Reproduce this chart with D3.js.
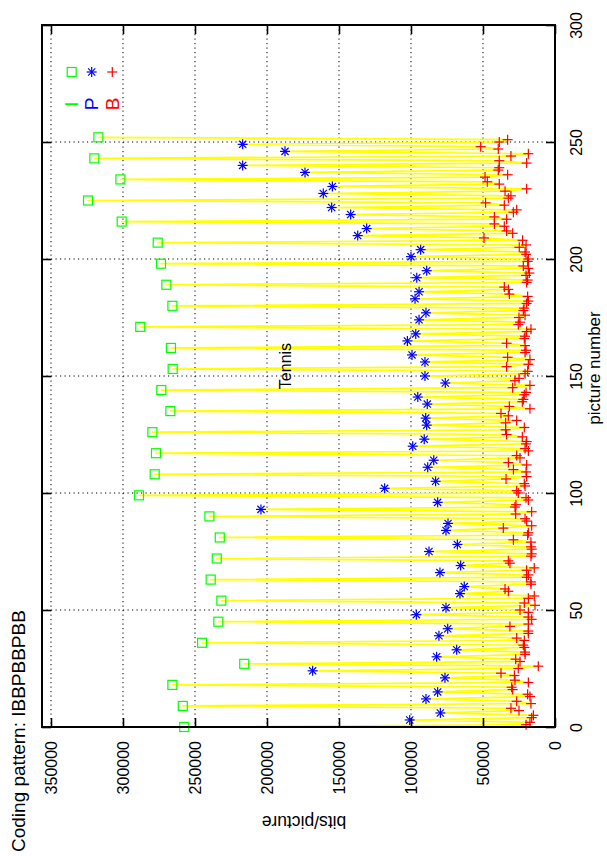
<!DOCTYPE html>
<meta charset="utf-8">
<style>
body { margin: 0; background: #fff; }
svg { font-family: "Liberation Sans", Arial, sans-serif; }
.grid line { stroke: #000; stroke-width: 1; stroke-dasharray: 1.2,3.3; }
.tick line { stroke: #000; stroke-width: 1.6; }
</style>
<body>
<script src="https://cdn.jsdelivr.net/npm/d3@7"></script>
<script>
var width = 607, height = 856;

var pattern = "IBBPBBPBB";

// bits per picture, in picture order for each frame type
var iBits = [257500, 258500, 265700, 215800, 245100, 233800, 231700, 239100, 234900, 232800,
  240000, 288900, 278000, 277100, 279600, 267100, 273400, 265500, 266700, 288000,
  265700, 269900, 273600, 275900, 300900, 324300, 301800, 319900, 317100];

var pBits = [100900, 79600, 89600, 81500, 76400, 168300, 82200, 68300, 80600, 74500,
  96300, 75700, 66000, 63000, 79900, 65500, 87500, 67800, 75700, 74300,
  204200, 81500, 118300, 82900, 88400, 84200, 98800, 90800, 89100, 89800,
  88700, 95300, 76200, 90300, 90300, 99300, 102500, 96700, 94400, 89600,
  97200, 94400, 96000, 89100, 100000, 93300, 137000, 130800, 141900, 155100,
  160900, 154600, 173600, 216900, 187500, 216900];

var bBits = [
  20100, 17400, 16200, 15000, 25000, 30600,
  16700, 26600, 17400, 19000, 29400, 30100,
  18500, 27800, 28200, 37500, 25500, 11600,
  24300, 27300, 20800, 20800, 21300, 22000,
  21300, 26600, 18500, 18500, 31300, 18500,
  16200, 18500, 18500, 24300, 13900, 21300,
  18500, 14400, 32400, 34700, 16700, 16700,
  19700, 18500, 19700, 14400, 31300, 32400,
  16700, 16200, 16200, 16700, 16700, 28900,
  19000, 18500, 35900, 16200, 19700, 20800,
  27300, 16200, 27800, 27100, 18500, 20100,
  25500, 26600, 20800, 21300, 34000, 19700,
  20100, 28900, 19700, 32400, 24300, 26600,
  18500, 20800, 20100, 19700, 22700, 33600,
  34300, 21300, 34300, 26600, 32400, 37500,
  17400, 31700, 22700, 22000, 21300, 20100,
  29400, 17400, 27800, 25000, 20800, 19000,
  33600, 18500, 17400, 32900, 20800, 20100,
  20800, 33600, 21300, 20800, 19700, 16700,
  25500, 24300, 25000, 20800, 22000, 21500,
  19700, 18500, 19000, 31700, 32400, 35200,
  19700, 19000, 20100, 17800, 18500, 22000,
  19000, 18500, 20100, 20800, 24800, 20100,
  22500, 49300, 29400, 33600, 35200, 42100,
  33600, 42100, 28900, 26600, 35200, 48200,
  32400, 30600, 34700, 19700, 38700, 47000,
  48600, 32900, 39400, 38700, 19700, 38700,
  30600, 18500, 39400, 51600, 38700, 32900];

var pictureTicks = [0, 50, 100, 150, 200, 250, 300];
var bitsTicks = [0, 50000, 100000, 150000, 200000, 250000, 300000, 350000];

var colors = { I: "#00ff00", P: "#0000ff", B: "#ff0000" };

// build picture sequence from the coding pattern
var frames = [];
var idx = { I: 0, P: 0, B: 0 };
var src = { I: iBits, P: pBits, B: bBits };
var total = iBits.length + pBits.length + bBits.length;
for (var n = 0; n < total; n++) {
  var t = pattern[n % pattern.length];
  frames.push({ pic: n, type: t, bits: src[t][idx[t]++] });
}

// page is rotated: bits run right-to-left, picture number bottom-to-top
var pLeft = 42, pRight = 555, pTop = 25, pBottom = 727;

var x = d3.scaleLinear().domain([0, 356250]).range([pRight, pLeft]);
var y = d3.scaleLinear().domain([0, 300]).range([pBottom, pTop]);

var svg = d3.select("body").append("svg")
  .attr("width", width)
  .attr("height", height);

svg.append("rect").attr("width", width).attr("height", height).attr("fill", "#fff");

// grid
var grid = svg.append("g").attr("class", "grid");
grid.selectAll(".gx")
  .data(bitsTicks.filter(function(d) { return d > 0; }))
  .enter().append("line")
    .attr("x1", function(d) { return x(d); })
    .attr("x2", function(d) { return x(d); })
    .attr("y1", pTop).attr("y2", pBottom);
grid.selectAll(".gy")
  .data(pictureTicks.filter(function(d) { return d > 0 && d < 300; }))
  .enter().append("line")
    .attr("y1", function(d) { return y(d); })
    .attr("y2", function(d) { return y(d); })
    .attr("x1", pLeft).attr("x2", pRight);

// yellow line through all pictures
var line = d3.line()
  .x(function(d) { return x(d.bits); })
  .y(function(d) { return y(d.pic); });

svg.append("path")
  .datum(frames)
  .attr("fill", "none")
  .attr("stroke", "#ffff00")
  .attr("stroke-width", 1.7)
  .attr("stroke-linejoin", "round")
  .attr("d", line);

// point symbols
function drawSymbol(g, type) {
  var c = colors[type];
  if (type == "I") {
    g.append("rect")
      .attr("x", -4.5).attr("y", -4.5)
      .attr("width", 9).attr("height", 9)
      .attr("fill", "none").attr("stroke", c).attr("stroke-width", 1.2);
  } else {
    var r = 5;
    var segs = [[-r, 0, r, 0], [0, -r, 0, r]];
    if (type == "P") {
      var s = 3.6;
      segs.push([-s, -s, s, s], [-s, s, s, -s]);
    }
    segs.forEach(function(p) {
      g.append("line")
        .attr("x1", p[0]).attr("y1", p[1]).attr("x2", p[2]).attr("y2", p[3])
        .attr("stroke", c).attr("stroke-width", 1.2);
    });
  }
}

svg.append("g").selectAll("g")
  .data(frames)
  .enter().append("g")
    .attr("transform", function(d) { return "translate(" + x(d.bits) + "," + y(d.pic) + ")"; })
    .each(function(d) { drawSymbol(d3.select(this), d.type); });

// frame
svg.append("rect")
  .attr("x", pLeft).attr("y", pTop)
  .attr("width", pRight - pLeft).attr("height", pBottom - pTop)
  .attr("fill", "none").attr("stroke", "#000").attr("stroke-width", 2);

// axes (ticks inward on all sides)
var fontSize = "16px";

var axisPic = svg.append("g")
  .attr("transform", "translate(" + pRight + ",0)")
  .call(d3.axisRight(y).tickValues(pictureTicks).tickSizeInner(-9).tickSizeOuter(0).tickPadding(22));
axisPic.select(".domain").remove();
axisPic.selectAll("text")
  .attr("font-size", fontSize).attr("font-family", null)
  .attr("text-anchor", "middle")
  .attr("x", 0)
  .attr("dy", "0.35em")
  .attr("transform", "translate(21,0) rotate(-90)");

var axisPicMirror = svg.append("g")
  .attr("transform", "translate(" + pLeft + ",0)")
  .call(d3.axisLeft(y).tickValues(pictureTicks).tickSizeInner(-9).tickSizeOuter(0).tickFormat(""));
axisPicMirror.select(".domain").remove();

var axisBits = svg.append("g")
  .attr("transform", "translate(0," + pBottom + ")")
  .call(d3.axisBottom(x).tickValues(bitsTicks).tickSizeInner(-9).tickSizeOuter(0).tickFormat(d3.format("d")));
axisBits.select(".domain").remove();
axisBits.selectAll("text")
  .attr("font-size", fontSize).attr("font-family", null)
  .attr("text-anchor", "end")
  .attr("y", 0)
  .attr("dy", "0.35em")
  .attr("transform", "translate(0,14) rotate(-90)");

var axisBitsMirror = svg.append("g")
  .attr("transform", "translate(0," + pTop + ")")
  .call(d3.axisTop(x).tickValues(bitsTicks).tickSizeInner(-9).tickSizeOuter(0).tickFormat(""));
axisBitsMirror.select(".domain").remove();

// labels
svg.append("text")
  .attr("transform", "translate(594," + (y(150) - 8) + ") rotate(-90)")
  .attr("text-anchor", "middle").attr("dy", "0.35em")
  .attr("font-size", "17px")
  .text("picture number");

svg.append("text")
  .attr("transform", "translate(" + (x(175000) + 1) + ",822) rotate(180)")
  .attr("text-anchor", "middle").attr("dy", "0.35em")
  .attr("font-size", "17.5px")
  .text("bits/picture");

svg.append("text")
  .attr("transform", "translate(285,366) rotate(-90)")
  .attr("text-anchor", "middle").attr("dy", "0.35em")
  .attr("font-size", "16px")
  .text("Tennis");

svg.append("text")
  .attr("transform", "translate(18,852) rotate(-90)")
  .attr("text-anchor", "start").attr("dy", "0.35em")
  .attr("font-size", "19px")
  .text("Coding pattern: IBBPBBPBB");

// key
var keyX = { I: 71.7, P: 91.7, B: 112.3 };
["I", "P", "B"].forEach(function(t) {
  var g = svg.append("g").attr("transform", "translate(" + keyX[t] + ",72)");
  drawSymbol(g, t);
  svg.append("text")
    .attr("transform", "translate(" + keyX[t] + ",104) rotate(-90)")
    .attr("text-anchor", "middle").attr("dy", "0.35em")
    .attr("font-size", "19px")
    .attr("fill", colors[t])
    .text(t);
});
</script>
</body>
